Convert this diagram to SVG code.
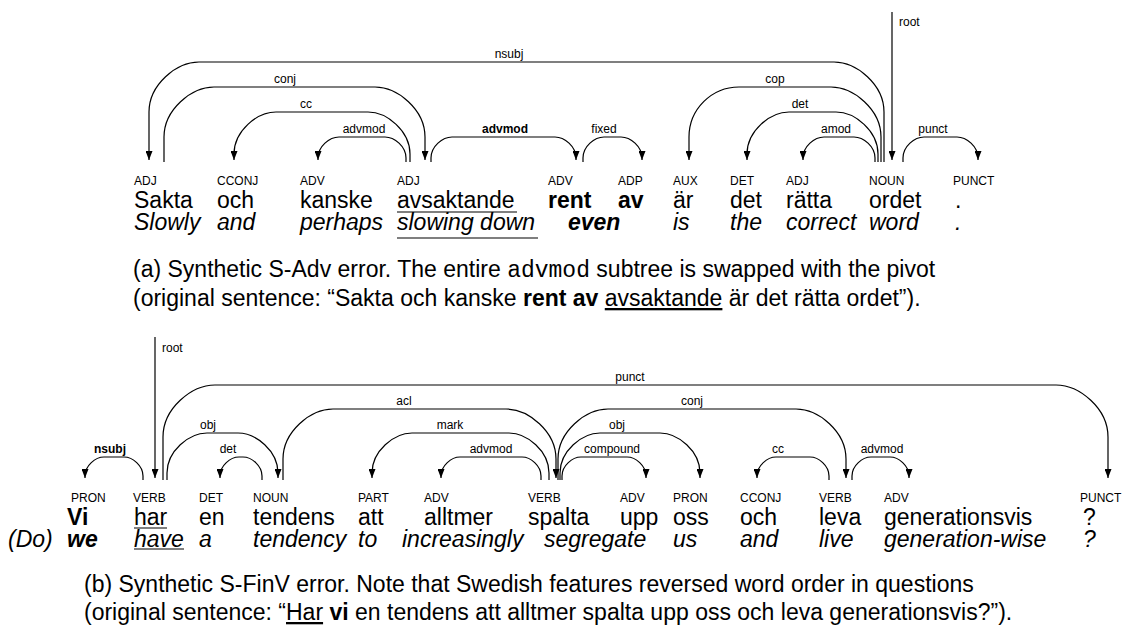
<svg xmlns="http://www.w3.org/2000/svg" width="1126" height="631" viewBox="0 0 1126 631">
<style>
text{font-family:"Liberation Sans",Arial,sans-serif;fill:#000}
.pos{font-size:12px}
.w{font-size:23px}
.g{font-size:23px;font-style:italic}
.b{font-weight:bold}
.lab{font-size:12px;text-anchor:middle}
.cap{font-size:23px}
.mono{font-family:"Liberation Mono",monospace}
.arc{fill:none;stroke:#000;stroke-width:1.2}
.arr{marker-end:url(#ah)}
.ul{stroke:#000;stroke-width:1.1}
</style>
<defs>
<marker id="ah" markerUnits="userSpaceOnUse" markerWidth="9" markerHeight="7" refX="9" refY="3.5" orient="auto">
<path d="M0,0 L9,3.5 L0,7 z" fill="#000"/>
</marker>
</defs>
<rect width="1126" height="631" fill="#fff"/>

<g id="a-connectors">
<path class="arc arr" d="M884,162 V112 C884,84.5 856.5,62 834,62 H199 C176.5,62 149,84.5 149,112 V160"/>
<path class="arc arr" d="M164,162 V137 C164,109.5 191.5,87 214,87 H375 C397.5,87 425,109.5 425,137 V160"/>
<path class="arc arr" d="M410,162 V154 C410,130.9 386.9,112 368,112 H276 C257.1,112 234,130.9 234,154 V160"/>
<path class="arc arr" d="M406,162 V158 C406,146.45 394.45,137 385,137 H339 C329.55,137 318,146.45 318,158 V160"/>
<path class="arc arr" d="M431,162 V158 C431,146.45 442.55,137 452,137 H555 C564.45,137 576,146.45 576,158 V160"/>
<path class="arc arr" d="M583,162 V158 C583,146.45 594.55,137 604,137 H621 C630.45,137 642,146.45 642,158 V160"/>
<path class="arc arr" d="M881,162 V137 C881,109.5 853.5,87 831,87 H739 C711.5,87 689,109.5 689,137 V160"/>
<path class="arc arr" d="M878,162 V154 C878,130.9 854.9,112 836,112 H789 C770.1,112 747,130.9 747,154 V160"/>
<path class="arc arr" d="M875,162 V158 C875,146.45 863.45,137 854,137 H824 C814.55,137 803,146.45 803,158 V160"/>
<path class="arc arr" d="M903,162 V158 C903,146.45 914.55,137 924,137 H957 C966.45,137 978,146.45 978,158 V160"/>
<path class="arc arr" d="M892,12 V160"/>
<text class="lab" x="509" y="58">nsubj</text>
<text class="lab" x="285" y="83">conj</text>
<text class="lab" x="306" y="108">cc</text>
<text class="lab" x="364" y="133">advmod</text>
<text class="lab b" x="505" y="133">advmod</text>
<text class="lab" x="604" y="133">fixed</text>
<text class="lab" x="775" y="83">cop</text>
<text class="lab" x="800" y="108">det</text>
<text class="lab" x="836" y="133">amod</text>
<text class="lab" x="933" y="133">punct</text>
<text class="pos" x="899" y="26">root</text>
</g>

<g id="a-w1"><text class="pos" x="134" y="185">ADJ</text><text class="w" x="134" y="208">Sakta</text><text class="g" x="134" y="230">Slowly</text></g>
<g id="a-w2"><text class="pos" x="217" y="185">CCONJ</text><text class="w" x="217" y="208">och</text><text class="g" x="217" y="230">and</text></g>
<g id="a-w3"><text class="pos" x="300" y="185">ADV</text><text class="w" x="300" y="208">kanske</text><text class="g" x="300" y="230">perhaps</text></g>
<g id="a-w4"><text class="pos" x="397" y="185">ADJ</text><text class="w" x="397" y="208">avsaktande</text><text class="g" x="397" y="230">slowing down</text>
<line class="ul" x1="397" y1="212" x2="517" y2="212"/><line class="ul" x1="397" y1="238" x2="538" y2="238"/></g>
<g id="a-w5"><text class="pos" x="548" y="185">ADV</text><text class="w b" x="548" y="208">rent</text><text class="g b" x="568" y="230">even</text></g>
<g id="a-w6"><text class="pos" x="618" y="185">ADP</text><text class="w b" x="618" y="208">av</text></g>
<g id="a-w7"><text class="pos" x="673" y="185">AUX</text><text class="w" x="673" y="208">är</text><text class="g" x="673" y="230">is</text></g>
<g id="a-w8"><text class="pos" x="730" y="185">DET</text><text class="w" x="730" y="208">det</text><text class="g" x="730" y="230">the</text></g>
<g id="a-w9"><text class="pos" x="786" y="185">ADJ</text><text class="w" x="786" y="208">rätta</text><text class="g" x="786" y="230">correct</text></g>
<g id="a-w10"><text class="pos" x="869" y="185">NOUN</text><text class="w" x="869" y="208">ordet</text><text class="g" x="869" y="230">word</text></g>
<g id="a-w11"><text class="pos" x="953" y="185">PUNCT</text><text class="w" x="955" y="208">.</text><text class="g" x="955" y="230">.</text></g>

<g id="caption-a">
<text class="cap" x="133" y="277">(a) Synthetic S-Adv error. The entire <tspan class="mono">advmod</tspan> subtree is swapped with the pivot</text>
<text class="cap" x="133" y="306">(original sentence: “Sakta och kanske <tspan class="b">rent av</tspan> <tspan text-decoration="underline">avsaktande</tspan> är det rätta ordet”).</text>
</g>

<g id="b-connectors">
<path class="arc arr" d="M143,480 V476 C143,465.55 132.55,457 124,457 H104 C95.45,457 85,465.55 85,476 V478"/>
<path class="arc arr" d="M155,337 V478"/>
<path class="arc arr" d="M163,480 V437 C163,408.4 191.6,385 215,385 H1056 C1079.4,385 1108,408.4 1108,437 V478"/>
<path class="arc arr" d="M167,480 V473 C167,451 189,433 207,433 H238 C256,433 278,451 278,473 V478"/>
<path class="arc arr" d="M262,480 V476 C262,465.55 251.55,457 243,457 H239 C230.45,457 220,465.55 220,476 V478"/>
<path class="arc arr" d="M283,480 V459 C283,431.5 310.5,409 333,409 H506 C528.5,409 556,431.5 556,459 V478"/>
<path class="arc arr" d="M549,480 V473 C549,451 527,433 509,433 H412 C394,433 372,451 372,473 V478"/>
<path class="arc arr" d="M541,480 V476 C541,465.55 530.55,457 522,457 H460 C451.45,457 441,465.55 441,476 V478"/>
<path class="arc arr" d="M562,480 V476 C562,465.55 572.45,457 581,457 H627 C635.55,457 646,465.55 646,476 V478"/>
<path class="arc arr" d="M560,480 V473 C560,451 582,433 600,433 H660 C678,433 700,451 700,473 V478"/>
<path class="arc arr" d="M558,480 V459 C558,431.5 585.5,409 608,409 H796 C818.5,409 846,431.5 846,459 V478"/>
<path class="arc arr" d="M829,480 V476 C829,465.55 818.55,457 810,457 H776 C767.45,457 757,465.55 757,476 V478"/>
<path class="arc arr" d="M852,480 V476 C852,465.55 862.45,457 871,457 H890 C898.55,457 909,465.55 909,476 V478"/>
<text class="lab b" x="110" y="453">nsubj</text>
<text class="pos" x="162" y="352">root</text>
<text class="lab" x="630" y="381">punct</text>
<text class="lab" x="208" y="429">obj</text>
<text class="lab" x="228" y="453">det</text>
<text class="lab" x="404" y="405">acl</text>
<text class="lab" x="450" y="429">mark</text>
<text class="lab" x="491" y="453">advmod</text>
<text class="lab" x="612" y="453">compound</text>
<text class="lab" x="617" y="429">obj</text>
<text class="lab" x="692" y="405">conj</text>
<text class="lab" x="778" y="453">cc</text>
<text class="lab" x="882" y="453">advmod</text>
</g>

<g id="b-w0"><text class="g" x="8" y="547">(Do)</text></g>
<g id="b-w1"><text class="pos" x="71" y="502">PRON</text><text class="w b" x="67" y="525">Vi</text><text class="g b" x="67" y="547">we</text></g>
<g id="b-w2"><text class="pos" x="133" y="502">VERB</text><text class="w" x="134" y="525">har</text><text class="g" x="134" y="547">have</text>
<line class="ul" x1="134" y1="528" x2="167" y2="528"/><line class="ul" x1="134" y1="549" x2="184" y2="549"/></g>
<g id="b-w3"><text class="pos" x="199" y="502">DET</text><text class="w" x="199" y="525">en</text><text class="g" x="199" y="547">a</text></g>
<g id="b-w4"><text class="pos" x="253" y="502">NOUN</text><text class="w" x="253" y="525">tendens</text><text class="g" x="253" y="547">tendency</text></g>
<g id="b-w5"><text class="pos" x="358" y="502">PART</text><text class="w" x="358" y="525">att</text><text class="g" x="358" y="547">to</text></g>
<g id="b-w6"><text class="pos" x="424" y="502">ADV</text><text class="w" x="424" y="525">alltmer</text><text class="g" x="402" y="547">increasingly</text></g>
<g id="b-w7"><text class="pos" x="528" y="502">VERB</text><text class="w" x="528" y="525">spalta</text><text class="g" x="544" y="547">segregate</text></g>
<g id="b-w8"><text class="pos" x="620" y="502">ADV</text><text class="w" x="620" y="525">upp</text></g>
<g id="b-w9"><text class="pos" x="673" y="502">PRON</text><text class="w" x="673" y="525">oss</text><text class="g" x="673" y="547">us</text></g>
<g id="b-w10"><text class="pos" x="740" y="502">CCONJ</text><text class="w" x="740" y="525">och</text><text class="g" x="740" y="547">and</text></g>
<g id="b-w11"><text class="pos" x="819" y="502">VERB</text><text class="w" x="819" y="525">leva</text><text class="g" x="819" y="547">live</text></g>
<g id="b-w12"><text class="pos" x="884" y="502">ADV</text><text class="w" x="884" y="525">generationsvis</text><text class="g" x="884" y="547">generation-wise</text></g>
<g id="b-w13"><text class="pos" x="1080" y="502">PUNCT</text><text class="w" x="1083" y="525">?</text><text class="g" x="1083" y="547">?</text></g>

<g id="caption-b">
<text class="cap" x="84" y="592">(b) Synthetic S-FinV error. Note that Swedish features reversed word order in questions</text>
<text class="cap" x="84" y="620">(original sentence: “<tspan text-decoration="underline">Har</tspan> <tspan class="b">vi</tspan> en tendens att alltmer spalta upp oss och leva generationsvis?”).</text>
</g>
</svg>
